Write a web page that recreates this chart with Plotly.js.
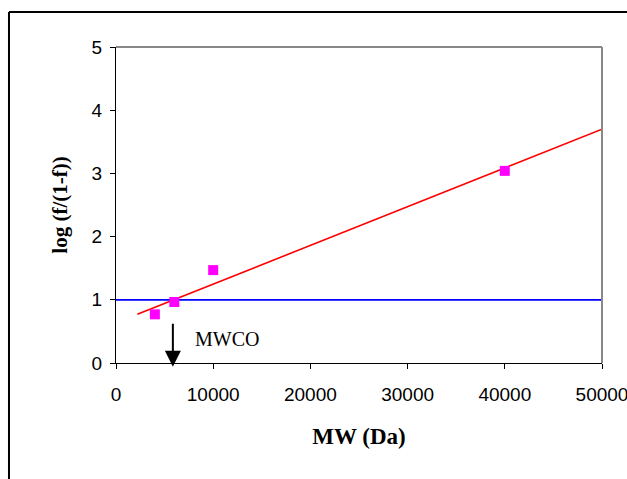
<!DOCTYPE html>
<html>
<head>
<meta charset="utf-8">
<script src="https://cdn.plot.ly/plotly-3.0.1.min.js"></script>
<style>
  html, body { margin: 0; padding: 0; background: #fff; }
  #chart { width: 627px; height: 479px; }
</style>
</head>
<body>
<div id="chart"></div>
<script>
// Data
const mw = [4000, 6000, 10000, 40000];
const logRatio = [0.77, 0.965, 1.47, 3.04];
const fitX = [2200, 50000];
const fitY = [0.77, 3.70];
const mwcoLineX = [0, 50000];
const mwcoLineY = [1, 1];
const xTicks = [0, 10000, 20000, 30000, 40000, 50000];
const yTicks = [0, 1, 2, 3, 4, 5];
const mwcoX = 5850;
const mwcoLabel = 'MWCO';

const traces = [
  { x: mwcoLineX, y: mwcoLineY, mode: 'lines', line: { color: '#0000FF', width: 1.8 }, hoverinfo: 'skip' },
  { x: fitX, y: fitY, mode: 'lines', line: { color: '#FF0000', width: 1.6 }, hoverinfo: 'skip' },
  { x: mw, y: logRatio, mode: 'markers', marker: { symbol: 'square', size: 10, color: '#FF00FF' }, cliponaxis: false }
];

const layout = {
  width: 627, height: 479,
  margin: { l: 116, r: 25, t: 47, b: 116 },
  paper_bgcolor: '#fff', plot_bgcolor: '#fff',
  showlegend: false,
  font: { family: 'Liberation Sans, Arial, sans-serif', color: '#000' },
  xaxis: {
    range: [0, 50000], tickvals: xTicks, ticktext: xTicks.map(String),
    showgrid: false, zeroline: false, showline: true, linecolor: '#000', linewidth: 1,
    ticks: 'outside', ticklen: 5, tickcolor: '#000', ticklabelstandoff: 9,
    ticklabeloverflow: 'allow',
    tickfont: { size: 19, family: 'Liberation Sans, Arial, sans-serif', color: '#000' },
    title: { text: '<b>MW (Da)</b>', font: { family: 'Liberation Serif, Times New Roman, serif', size: 23, color: '#000' }, standoff: 24 }
  },
  yaxis: {
    range: [0, 5], tickvals: yTicks, ticktext: yTicks.map(String),
    showgrid: false, zeroline: false, showline: true, linecolor: '#000', linewidth: 1,
    ticks: 'outside', ticklen: 5, tickcolor: '#000', ticklabelstandoff: 4,
    ticklabeloverflow: 'allow',
    tickfont: { size: 19, family: 'Liberation Sans, Arial, sans-serif', color: '#000' },
    title: { text: '<b>log (f/(1-f))</b>', font: { family: 'Liberation Serif, Times New Roman, serif', size: 21, color: '#000' }, standoff: 18 }
  },
  shapes: [
    { type: 'line', xref: 'paper', yref: 'paper', x0: 0, x1: 1, y0: 1, y1: 1, line: { color: '#888', width: 2 } },
    { type: 'line', xref: 'paper', yref: 'paper', x0: 1, x1: 1, y0: 0, y1: 1, line: { color: '#888', width: 2 } },
    { type: 'line', xref: 'paper', yref: 'paper', x0: -0.2202, x1: 1.2, y0: 1.1108, y1: 1.1108, line: { color: '#000', width: 2 } },
    { type: 'line', xref: 'paper', yref: 'paper', x0: -0.2202, x1: -0.2202, y0: 1.1108, y1: -0.5, line: { color: '#000', width: 2 } }
  ],
  annotations: [
    { x: mwcoX, y: -0.06, xref: 'x', yref: 'y', ax: mwcoX, ay: 0.645, axref: 'x', ayref: 'y',
      showarrow: true, arrowhead: 2, arrowsize: 1.6, arrowwidth: 2, arrowcolor: '#000', text: '' },
    { x: 11400, y: 0.38, xref: 'x', yref: 'y', text: mwcoLabel, showarrow: false,
      font: { family: 'Liberation Serif, Times New Roman, serif', size: 20, color: '#000' } }
  ]
};

Plotly.newPlot('chart', traces, layout, { staticPlot: true, displayModeBar: false });
</script>
</body>
</html>
